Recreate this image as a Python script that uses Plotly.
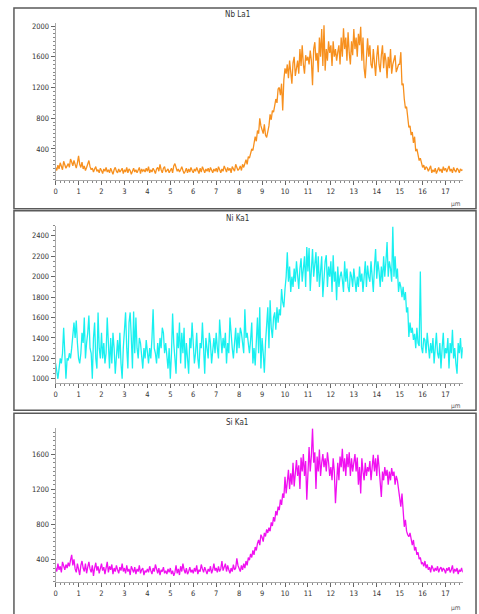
import plotly.graph_objects as go

# ---------------- data (distance step 0.05 µm) ----------------
STEP = 0.05

nb_la1 = [
    160,120,190,140,220,170,130,240,200,150,180,210,160,270,230,180,250,190,150,220,
    310,200,160,230,140,180,120,160,210,250,170,130,150,100,140,170,110,130,90,150,
    120,80,140,110,160,100,130,90,150,120,70,130,160,110,90,140,100,120,150,80,
    130,100,160,90,140,120,70,110,150,100,130,90,120,160,80,140,110,130,100,150,
    110,170,90,130,100,150,120,80,140,160,110,200,130,90,150,170,100,120,140,90,
    130,150,90,180,210,160,110,140,100,130,170,120,80,110,150,90,140,100,160,120,
    90,140,110,160,130,80,150,100,170,120,90,140,110,150,100,160,130,90,140,110,
    150,100,170,120,90,140,110,180,130,100,160,120,150,90,170,130,110,200,150,120,
    140,180,120,200,160,220,260,200,300,280,340,400,380,480,560,500,640,600,800,700,
    650,600,720,580,550,620,700,850,780,900,880,960,1050,1000,1180,1200,1100,1250,900,1300,
    1450,1380,1500,1320,1550,1400,1250,1520,1600,1350,1450,1550,1380,1700,1480,1750,1500,1380,1620,1550,
    1600,1500,1680,1550,1230,1700,1790,1550,1650,1400,1850,1600,1960,1480,2010,1420,1700,1550,1800,1650,
    1750,1480,1800,1600,1700,1550,1660,1750,1500,1850,1600,1970,1700,1850,1550,1920,1650,1500,1800,1620,
    1960,1700,1850,1600,1900,1750,1990,1550,1850,1450,1320,1700,1840,1600,1750,1500,1450,1700,1550,1350,
    1600,1750,1500,1400,1620,1750,1450,1650,1550,1320,1600,1450,1700,1380,1500,1550,1620,1400,1450,1500,
    1500,1660,1230,1250,1050,930,950,800,680,700,580,620,480,560,370,400,300,250,280,230,
    160,190,130,170,150,110,140,180,90,130,100,150,80,120,160,110,140,90,170,120,
    150,100,130,180,110,140,90,160,120,100,150,130,90,140,120,130,
]

ni_ka1 = [
    1150,1050,1000,1100,1200,1150,1250,1500,1300,1000,1200,1180,1250,1200,1300,1480,1550,1400,1570,1350,
    1200,1150,1250,1450,1350,1600,1200,1350,1450,1620,1300,1250,1000,1400,1550,1200,1100,1650,1300,1200,
    1450,1200,1350,1150,1250,1600,1300,1100,1400,1150,1450,1300,1050,1250,1380,1200,1450,1150,1000,1300,
    1450,1650,1300,1100,1550,1650,1400,1100,1660,1250,1600,1300,1200,1400,1350,1250,1100,1300,1200,1380,
    1250,1150,1300,1200,1400,1680,1300,1250,1150,1350,1200,1400,1300,1500,1450,1250,1350,1200,1100,1300,
    1000,1250,1640,1350,1200,1050,1450,1300,1550,1150,1450,1250,1500,1100,1350,1200,1050,1400,1300,1550,
    1350,1150,1250,1450,1200,1100,1350,1300,1550,1250,1050,1400,1300,1200,1450,1350,1150,1300,1400,1250,
    1450,1300,1200,1580,1350,1250,1400,1300,1450,1150,1350,1250,1600,1400,1300,1200,1350,1500,1250,1450,
    1300,1500,1450,1350,1250,1680,1400,1450,1320,1250,1380,1550,1150,1300,1130,1400,1600,1250,1700,1100,
    1400,1250,1060,1350,1550,1700,1300,1770,1500,1400,1600,1650,1480,1700,1550,1680,1620,1880,1750,1700,
    1880,2000,2240,1950,2100,1850,2000,1900,2080,1950,2150,2000,1880,2080,2180,1950,2100,2200,1900,2290,
    2050,2280,1860,2150,2270,2000,2150,2240,1950,2200,1900,2100,2200,1800,2050,2150,2210,1900,2100,2000,
    2150,1850,2210,1950,2050,1770,2100,1900,2000,2050,1970,1850,2150,1950,2080,1900,1850,2050,2000,1900,
    2080,1950,1850,2000,1900,2100,1950,2030,1850,2000,2150,1900,2110,2000,1950,2150,2000,1850,2100,2270,
    1980,2150,2050,1900,2100,1950,2200,2000,2150,2340,2000,2150,2080,1950,2490,2000,2200,1980,2080,1850,
    1950,1900,1800,1900,1770,1850,1650,1700,1410,1550,1450,1500,1380,1440,1300,1500,1350,1320,2050,1310,
    1250,1400,1380,1250,1450,1300,1200,1350,1250,1400,1150,1300,1450,1250,1200,1350,1100,1300,1450,1200,
    1300,1250,1400,1100,1350,1250,1480,1200,1300,1150,1050,1350,1250,1400,1200,1310,
]

si_ka1 = [
    300,260,350,280,320,250,370,310,280,340,300,360,320,390,450,330,400,290,250,350,
    280,220,330,380,300,260,350,240,310,370,290,250,330,210,300,360,270,320,240,290,
    350,270,310,230,290,370,250,320,280,340,230,300,260,330,280,240,310,270,350,260,
    300,240,330,260,290,220,320,270,250,310,230,290,260,330,240,280,300,220,270,250,
    290,250,320,270,230,300,260,340,280,240,300,220,280,260,310,240,270,230,290,250,
    300,230,270,210,250,330,240,290,220,320,260,350,280,240,300,230,260,310,250,280,
    240,300,260,330,230,280,260,340,290,250,310,270,230,290,260,320,240,280,350,270,
    300,250,320,260,290,380,270,310,350,260,330,280,240,300,260,340,280,300,410,330,
    300,260,330,280,350,300,380,330,420,390,460,420,500,450,540,500,580,620,560,680,
    650,600,700,660,740,700,760,720,820,780,880,830,950,900,1000,960,1080,1020,1150,1100,
    1340,1150,1280,1420,1200,1380,1250,1500,1230,1400,1530,1350,1470,1200,1560,1400,1600,1350,1520,1080,
    1450,1680,1400,1580,1890,1500,1620,1200,1570,1400,1650,1350,1500,1600,1450,1550,1400,1620,1500,1350,
    1450,1300,1550,1400,1040,1350,1500,1300,1570,1450,1660,1400,1550,1350,1600,1450,1620,1350,1550,1400,
    1500,1600,1400,1560,1250,1450,1150,1550,1400,1300,1500,1350,1450,1400,1520,1300,1450,1590,1400,1550,
    1350,1590,1450,1300,1110,1400,1300,1450,1350,1420,1250,1400,1300,1440,1350,1400,1250,1350,1300,1200,
    1080,1000,1150,900,770,850,720,680,656,700,600,560,620,500,540,450,480,400,420,350,
    360,320,380,300,340,280,310,250,330,290,260,300,270,320,250,290,310,260,300,280,
    240,300,270,310,250,280,330,240,290,260,300,230,280,260,300,250,
]

titles = ["Nb La1", "Ni Ka1", "Si Ka1"]
x_ticks = list(range(0, 18))
nb_yticks = [400, 800, 1200, 1600, 2000]
ni_yticks = [1000, 1200, 1400, 1600, 1800, 2000, 2200, 2400]
si_yticks = [400, 800, 1200, 1600]
unit_label = "µm"

def dist(vals):
    return [round(i * STEP, 3) for i in range(len(vals))]

# ---------------- figure ----------------
W, H = 479, 614
def px(x):
    return x / W
def py(y):
    return 1 - y / H

series = [nb_la1, ni_ka1, si_ka1]
colors = ["#F7901E", "#19F0F0", "#F010F0"]
yticks = [nb_yticks, ni_yticks, si_yticks]
yranges = [[0, 2040], [955, 2500], [140, 1893]]
ydom = [[py(179), py(22)], [py(383), py(225)], [py(582), py(428)]]
minor_dt = [50, 50, 50]
frames = [(7, 208), (210, 410), (413, 620)]
title_y = [14, 218, 422]
unit_y = [203, 406, 608]

fig = go.Figure()
font_ticks = dict(family="Liberation Sans Narrow, Arial Narrow, DejaVu Sans Condensed, sans-serif", size=7.5, color="#333333")

for i in range(3):
    n = "" if i == 0 else str(i + 1)
    fig.add_trace(go.Scatter(
        x=dist(series[i]), y=series[i], mode="lines",
        line=dict(color=colors[i], width=1.3),
        xaxis="x" + n, yaxis="y" + n, showlegend=False, hoverinfo="skip",
    ))
    fig.layout["xaxis" + n] = dict(
        domain=[px(53.85), px(462.7)], range=[0, 17.75], anchor="y" + n,
        tickvals=x_ticks, ticks="outside", ticklen=4, tickwidth=1, tickcolor="#666666",
        showline=True, linecolor="#aaaaaa", linewidth=1, showgrid=False, zeroline=False,
        tickfont=font_ticks,
        minor=dict(dtick=0.2, tick0=0, ticks="outside", ticklen=2, tickcolor="#888888", showgrid=False),
    )
    fig.layout["yaxis" + n] = dict(
        domain=ydom[i], range=yranges[i], anchor="x" + n,
        tickvals=yticks[i], ticks="outside", ticklen=4, tickwidth=1, tickcolor="#666666",
        showline=True, linecolor="#aaaaaa", linewidth=1, showgrid=False, zeroline=False,
        tickfont=font_ticks,
        minor=dict(dtick=minor_dt[i], tick0=0, ticks="outside", ticklen=2, tickcolor="#888888", showgrid=False),
    )
    fig.add_shape(type="rect", xref="paper", yref="paper",
                  x0=px(12), x1=px(476), y0=py(frames[i][1]), y1=py(frames[i][0]),
                  line=dict(color="#5a5a5a", width=1.5), fillcolor="rgba(0,0,0,0)", layer="above")
    fig.add_annotation(text=titles[i], xref="paper", yref="paper", x=px(236), y=py(title_y[i]),
                       showarrow=False, font=dict(family=font_ticks["family"], size=8, color="#333333"),
                       xanchor="center", yanchor="middle")
    fig.add_annotation(text=unit_label, xref="paper", yref="paper", x=px(456), y=py(unit_y[i]),
                       showarrow=False, font=dict(family=font_ticks["family"], size=6.5, color="#555555"),
                       xanchor="center", yanchor="middle")

fig.update_layout(
    width=W, height=H, autosize=False,
    margin=dict(l=0, r=0, t=0, b=0),
    paper_bgcolor="white", plot_bgcolor="white",
)

fig.write_html(
    "out.html",
    config={"displayModeBar": False},
    post_script="document.body.style.margin='0px';document.body.style.overflow='hidden';",
)
